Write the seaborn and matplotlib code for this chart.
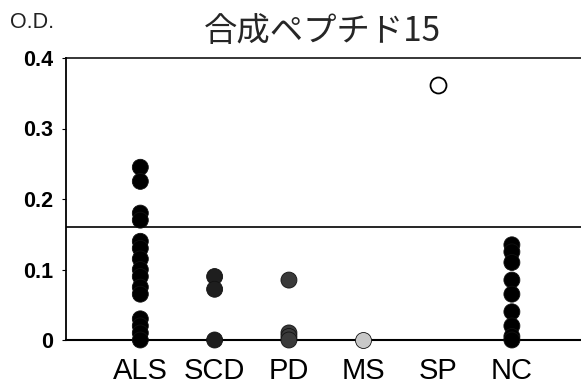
import matplotlib
matplotlib.use("Agg")
import matplotlib.pyplot as plt
import seaborn as sns
import pandas as pd

# O.D. values per patient group
categories = ["ALS", "SCD", "PD", "MS", "SP", "NC"]
als = [0.245, 0.225, 0.18, 0.17, 0.14, 0.13, 0.115, 0.10, 0.09, 0.075, 0.065, 0.03, 0.02, 0.01, 0.0]
scd = [0.09, 0.072, 0.0]
pd_vals = [0.085, 0.01, 0.005, 0.0]
ms = [0.0]
sp = [0.362]
nc = [0.135, 0.125, 0.11, 0.085, 0.065, 0.04, 0.02, 0.005, 0.0]
cutoff = 0.16

group_values = [als, scd, pd_vals, ms, sp, nc]
fill_colors = {"ALS": "#000000", "SCD": "#1e1e1e", "PD": "#3a3a3a",
               "MS": "#c8c8c8", "SP": "#ffffff", "NC": "#000000"}

yticks = [0, 0.1, 0.2, 0.3, 0.4]
ytick_labels = ["0", "0.1", "0.2", "0.3", "0.4"]

rows = [(c, v) for c, vals in zip(categories, group_values) for v in vals]
df = pd.DataFrame(rows, columns=["group", "od"])

sns.set_theme(style="white")
plt.rcParams["font.family"] = ["Liberation Sans", "DejaVu Sans"]

fig = plt.figure(figsize=(5.81, 3.90), dpi=100)
ax = fig.add_axes([66 / 581, 1 - 340 / 390, 1 - 66 / 581, (340 - 58) / 390])

ax.axhline(cutoff, color="black", lw=1.2, zorder=1)

filled = df[df["group"] != "SP"]
sns.stripplot(data=filled, x="group", y="od", hue="group", order=categories,
              hue_order=categories, palette=fill_colors, jitter=False,
              size=11.5, linewidth=0.6, edgecolor="#111111", legend=False,
              ax=ax, zorder=3)
sns.stripplot(data=df[df["group"] == "SP"], x="group", y="od", order=categories,
              color="white", jitter=False, size=11.5, linewidth=1.3,
              edgecolor="black", legend=False, ax=ax, zorder=3)
# let the dots sitting on zero spill over the bottom spine
for coll in ax.collections:
    if len(coll.get_offsets()) > 0:
        coll.set_clip_on(False)

ax.set_xlim(-1.0, 5.93)
ax.set_ylim(0, 0.4)
ax.set_yticks(yticks)
ax.set_yticklabels(ytick_labels, fontsize=15.5, fontweight="bold")
ax.set_xticks(range(len(categories)))
ax.set_xticklabels(categories, fontsize=21)
ax.set_xlabel("")
ax.set_ylabel("")

ax.tick_params(axis="y", which="major", left=True, length=3, width=0.8,
               pad=6, colors="black", direction="out")
ax.tick_params(axis="x", bottom=False, pad=6, colors="black")

for side in ["top", "bottom", "left"]:
    ax.spines[side].set_visible(True)
    ax.spines[side].set_color("black")
ax.spines["top"].set_linewidth(1.1)
ax.spines["bottom"].set_linewidth(1.5)
ax.spines["left"].set_linewidth(1.3)
ax.spines["right"].set_visible(False)

fig.text(322 / 581, 1 - 31 / 390, "合成ペプチド15", ha="center", va="center",
         fontsize=24, family=["Noto Sans CJK JP", "DejaVu Sans"])
fig.text(10 / 581, 1 - 22 / 390, "O.D.", ha="left", va="center", fontsize=15.5,
         color="#222222")

fig.savefig("out.png", dpi=100)
